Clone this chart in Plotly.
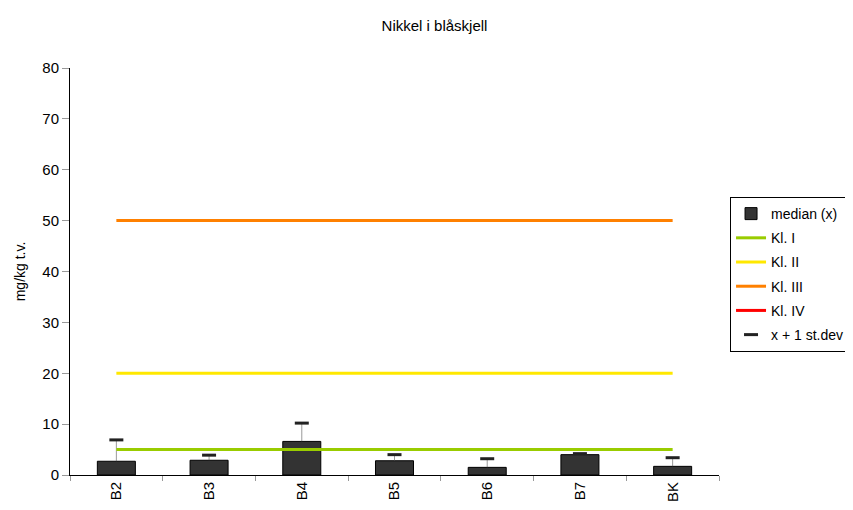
import plotly.graph_objects as go

categories = ["B2", "B3", "B4", "B5", "B6", "B7", "BK"]
median = [2.7, 2.9, 6.6, 2.8, 1.5, 4.0, 1.7]
plus_sd = [6.9, 3.9, 10.2, 4.0, 3.2, 4.2, 3.4]
kl1 = [5] * 7
kl2 = [20] * 7
kl3 = [50] * 7
kl4 = [100] * 7

sd = [p - m for p, m in zip(plus_sd, median)]

fig = go.Figure()
fig.add_trace(go.Bar(
    x=categories, y=median, name="median (x)", legendgroup="g0",
    marker=dict(color="#333333", line=dict(color="#000000", width=1)),
    width=0.41,
    error_y=dict(type="data", array=sd, symmetric=False, arrayminus=[0]*7,
                 width=0, thickness=0.6, color="#555555"),
))
for i, (name, vals, col) in enumerate([("Kl. I", kl1, "#99CC00"), ("Kl. II", kl2, "#FFE800"),
                                       ("Kl. III", kl3, "#FF8000"), ("Kl. IV", kl4, "#FF0000")]):
    fig.add_trace(go.Scatter(x=categories, y=vals, name=name, mode="lines",
                             legendgroup=f"g{i+1}",
                             line=dict(color=col, width=3)))
fig.add_trace(go.Scatter(
    x=categories, y=plus_sd, name="x + 1 st.dev", mode="markers", legendgroup="g5",
    marker=dict(symbol="line-ew-open", size=10, color="#222222",
                line=dict(color="#222222", width=3)),
))

fig.update_layout(
    width=853, height=510,
    paper_bgcolor="white", plot_bgcolor="white",
    font=dict(family="Liberation Sans, Arial, sans-serif", size=14, color="#000000"),
    title=dict(text="Nikkel i blåskjell", x=0.5, xanchor="center", y=0.975, yanchor="top",
               font=dict(size=15)),
    margin=dict(l=62, r=142, t=60, b=43, autoexpand=False),
    showlegend=True,
    legend=dict(x=1.017, y=0.683, xanchor="left", yanchor="top",
                bordercolor="#000000", borderwidth=1, font=dict(size=14),
                tracegroupgap=3, itemwidth=30),
    bargap=0.59,
)
fig.update_xaxes(showline=True, linecolor="#000000", linewidth=1,
                 ticks="outside", tickson="boundaries", ticklen=5, tickcolor="#999999",
                 tickangle=-90, showgrid=False, range=[-0.5, 6.5],
                 tickfont=dict(size=15))
fig.update_yaxes(range=[0, 80], dtick=10, showline=True, linecolor="#000000", linewidth=1,
                 ticks="outside", ticklen=7, tickcolor="#999999", showgrid=False,
                 zeroline=False, tickfont=dict(size=15),
                 title=dict(text="mg/kg t.v.", standoff=13, font=dict(size=14)))

fig.write_html("out.html")
